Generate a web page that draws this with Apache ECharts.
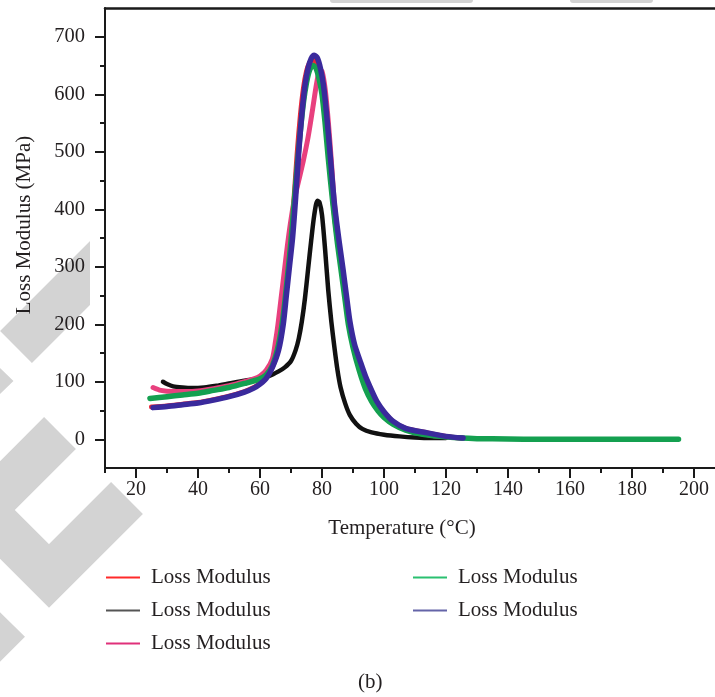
<!DOCTYPE html>
<html>
<head>
<meta charset="utf-8">
<script src="https://cdn.jsdelivr.net/npm/echarts@6/dist/echarts.min.js"></script>
<style>
html,body{margin:0;padding:0;background:#fff;}
#chart{width:715px;height:697px;}
</style>
</head>
<body>
<div id="chart"></div>
<script>
// ---- data ----
const seriesNames = ['Loss Modulus 1','Loss Modulus 2','Loss Modulus 3','Loss Modulus 4','Loss Modulus 5'];
const legendLabel = 'Loss Modulus';

const redT = [25,30,35,40,45,50,55,58,60,62,64,66,67,68,69,70,71,72,73,74,75,76,77,78,79,80,81,82.2,83.6,85,86.4,87.6,88.6,90,92,94,96,97.5,100,103,107,114,120,125];
const redV = [56,58,61,64,69,75,83,90,97,107,126,158,200,250,300,352,420,498,562,610,640,655,660,656,640,610,560,495,410,345,295,245,205,168,137,108,83,65,47,30,19,11,5,2];

const blackT = [28.7,30,32,35,38,42,46,50,55,60,63,66,68,70,71.5,72.5,73.5,74.5,75.5,76.5,77.5,78.5,79.2,80,81,82,83,84,85,86,87.5,89,91,93,96,100,105,110,115,120];
const blackV = [100,96,92,90,89,90,93,97,102,106,110,118,125,136,155,175,205,245,295,345,390,415,412,390,330,260,205,160,120,90,62,42,27,18,12,8,5,3,2,2];

const pinkT = [25.5,28,32,36,40,45,50,55,58,60,62,64,65,65.8,66.8,67.8,68.8,69.8,71,72.5,74,75.5,77,78.3,79.3,80,81,82,83,84,85.5,87,88.5,90,92,94,96,98,100,103,107,112,118,125];
const pinkV = [90,85,83,83,84,88,93,100,105,110,120,140,170,200,245,290,335,375,415,450,485,525,575,620,642,640,610,555,485,410,330,270,210,165,125,95,72,55,42,28,18,10,5,2];

const greenT = [24.5,30,35,40,45,50,55,60,62,64,66,67.5,69,70,71,72,73,74,75,76,77,78,79,80,81,82,83.5,85,86,87.5,88.5,90,92,94,96,98,100,103,107,112,118,125,130,140,150,160,170,180,190,195];
const greenV = [71,74,77,80,85,90,97,105,112,128,165,215,290,345,410,475,535,585,620,642,650,646,628,600,550,490,410,340,300,240,200,160,120,88,66,50,38,26,16,9,5,2,1,0.5,0,0,0,0,0,0];

const blueT = [25.5,30,35,40,45,50,55,58,60,62,64,66,67.5,68.5,69.5,70.5,71.5,72.5,73.5,74.5,75.5,76.5,77.5,78.5,79.5,80.5,81.5,82.6,84,85.5,86.8,88,89,90.5,92.3,94,96,97.7,100,103,107,114,120,125.5];
const blueV = [55,57,60,63,68,74,82,89,96,106,125,155,200,250,300,350,420,500,565,615,645,662,668,663,645,615,565,497,410,345,295,245,205,165,136,110,85,66,48,31,19,11,5,2];

const xMajorTicks = [20,40,60,80,100,120,140,160,180,200];
const xMinorTicks = [10,30,50,70,90,110,130,150,170,190];
const yMajorTicks = [0,100,200,300,400,500,600,700];
const yMinorTicks = [50,150,250,350,450,550,650];

const lineColors = ['#e8283a','#111111','#e8407e','#14a050','#3a2a9c'];
const legendColors = ['#ff2a2a','#555555','#e0307a','#2ac070','#6464a8'];

// ---- chart ----
const FONT = '"Liberation Serif", "Times New Roman", serif';
const TXT = '#231f20';
const AX = '#1a1a1a';

function zip(t, v){ return t.map((x,i)=>[x, v[i]]); }
const tv = [[redT,redV],[blackT,blackV],[pinkT,pinkV],[greenT,greenV],[blueT,blueV]];
const widths = [5,4.5,5,5.5,5.5];

const series = seriesNames.map((n,i)=>({
  name: n,
  type: 'line',
  xAxisIndex: 0,
  yAxisIndex: 0,
  data: zip(tv[i][0], tv[i][1]),
  showSymbol: false,
  symbol: 'none',
  smooth: 0.25,
  itemStyle: {color: legendColors[i]},
  lineStyle: {color: lineColors[i], width: widths[i], cap: 'round', join: 'round'},
  emphasis: {disabled: true},
  z: 2 + i
}));

function legendData(idx){
  return idx.map(i=>({name: seriesNames[i], icon: 'rect', itemStyle: {color: legendColors[i], borderWidth: 0}}));
}
const legendCommon = {
  orient: 'vertical',
  top: 567,
  padding: 0,
  itemWidth: 34,
  itemHeight: 2,
  itemGap: 12,
  selectedMode: false,
  formatter: () => legendLabel,
  textStyle: {fontFamily: FONT, fontSize: 21, lineHeight: 21, color: TXT, padding: [0,0,0,6]}
};

const gray = '#d3d3d3';
const bandW = 45;
const graphic = [
  {type:'polyline', z:-100, shape:{points:[[16,347],[140,223]]}, style:{stroke:gray, lineWidth:bandW, fill:null, lineCap:'butt'}},
  {type:'polyline', z:-100, shape:{points:[[-70,332],[-19,381],[-70,430]]}, style:{stroke:gray, lineWidth:bandW, fill:null, lineJoin:'miter'}},
  {type:'polyline', z:-100, shape:{points:[[60,433],[-17,510],[49,576],[127,498]]}, style:{stroke:gray, lineWidth:bandW, fill:null, lineJoin:'miter', lineCap:'butt'}},
  {type:'polyline', z:-100, shape:{points:[[-60,585],[-7,637],[-60,690]]}, style:{stroke:gray, lineWidth:bandW, fill:null, lineJoin:'miter'}},
  {type:'rect', z:-100, shape:{x:330, y:-3, width:143, height:6, r:3}, style:{fill:gray}},
  {type:'rect', z:-100, shape:{x:570, y:-3, width:83, height:6, r:3}, style:{fill:gray}},
  {type:'rect', z:-99, shape:{x:90, y:4, width:640, height:476}, style:{fill:'#ffffff'}}
];

const baseX = {type:'value', min:10, max:210, gridIndex:0, splitLine:{show:false}};
const baseY = {type:'value', min:-50, max:750, gridIndex:0, splitLine:{show:false}};

const option = {
  animation: false,
  backgroundColor: 'transparent',
  grid: {left:105, top:8, width:620, height:460, outerBoundsMode:'none', containLabel:false},
  graphic: graphic,
  title: {
    text: '(b)', left: 358, top: 672, padding: 0,
    textStyle: {fontFamily: FONT, fontSize: 21, fontWeight: 'normal', color: TXT}
  },
  legend: [
    Object.assign({}, legendCommon, {left: 106, data: legendData([0,1,2])}),
    Object.assign({}, legendCommon, {left: 413, data: legendData([3,4])})
  ],
  xAxis: [
    Object.assign({}, baseX, {
      position:'bottom',
      interval: 10,
      axisLine:{show:true, onZero:false, lineStyle:{color:AX, width:2}},
      axisTick:{show:true, inside:false, length:10, customValues: xMajorTicks, lineStyle:{color:AX, width:2}},
      axisLabel:{show:true, customValues: xMajorTicks, margin:12, fontFamily:FONT, fontSize:20, color:TXT,
        formatter: v => (v % 20 === 0 ? String(v) : '')},
      name:'Temperature (°C)', nameLocation:'middle', nameGap:50,
      nameTextStyle:{fontFamily:FONT, fontSize:21, color:TXT, padding:[0,26,0,0]}
    }),
    Object.assign({}, baseX, {
      position:'bottom',
      interval: 10,
      axisLine:{show:false, onZero:false},
      axisTick:{show:true, inside:false, length:5, customValues: xMinorTicks, lineStyle:{color:AX, width:2}},
      axisLabel:{show:false}
    }),
    Object.assign({}, baseX, {
      position:'top',
      axisLine:{show:true, onZero:false, lineStyle:{color:AX, width:2.5}},
      axisTick:{show:false},
      axisLabel:{show:false}
    })
  ],
  yAxis: [
    Object.assign({}, baseY, {
      position:'left', offset:0,
      interval: 50,
      axisLine:{show:true, onZero:false, lineStyle:{color:AX, width:2}},
      axisTick:{show:true, inside:false, length:10, customValues: yMajorTicks, lineStyle:{color:AX, width:2}},
      axisLabel:{show:true, customValues: yMajorTicks, margin:20, fontFamily:FONT, fontSize:20.5, color:TXT,
        formatter: v => (v % 100 === 0 && v >= 0 && v <= 700 ? String(v) : '')},
      name:'Loss Modulus (MPa)', nameLocation:'middle', nameGap:70,
      nameTextStyle:{fontFamily:FONT, fontSize:21, color:TXT, padding:[0,0,0,26]}
    }),
    Object.assign({}, baseY, {
      position:'left', offset:0,
      interval: 50,
      axisLine:{show:false, onZero:false},
      axisTick:{show:true, inside:false, length:5, customValues: yMinorTicks, lineStyle:{color:AX, width:2}},
      axisLabel:{show:false}
    })
  ],
  series: series
};

const chart = echarts.init(document.getElementById('chart'), null, {renderer:'canvas'});
chart.setOption(option);
</script>
</body>
</html>
